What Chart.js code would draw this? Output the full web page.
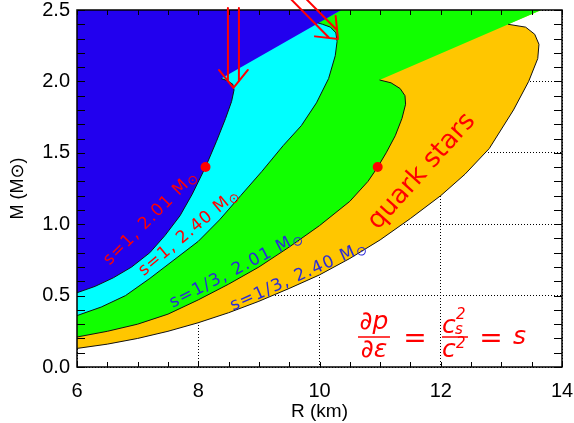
<!DOCTYPE html>
<html><head><meta charset="utf-8">
<script src="https://cdn.jsdelivr.net/npm/chart.js@4"></script>
<style>html,body{margin:0;padding:0;background:#fff;overflow:hidden}</style>
</head><body>
<canvas id="c" width="574" height="423"></canvas>
<script>
// ---- data (R in km, M in solar masses) ----
const curveA_R = [6.00, 6.30, 6.60, 6.90, 7.20, 7.45, 7.70, 7.90, 8.12, 8.30, 8.45, 8.55, 8.59, 8.57, 8.48, 8.38];
const curveA_M = [0.52, 0.565, 0.625, 0.70, 0.80, 0.92, 1.06, 1.21, 1.40, 1.58, 1.74, 1.86, 1.94, 1.98, 2.005, 2.02];
const curveB_R = [6.00, 6.40, 6.80, 7.20, 7.60, 8.00, 8.35, 8.70, 9.05, 9.40, 9.70, 9.95, 10.15, 10.26, 10.29, 10.27, 10.18, 10.05, 9.97];
const curveB_M = [0.36, 0.42, 0.50, 0.62, 0.75, 0.88, 1.03, 1.20, 1.37, 1.55, 1.69, 1.85, 2.02, 2.18, 2.28, 2.34, 2.38, 2.40, 2.41];
const curveC_R = [6.00, 6.50, 7.00, 7.50, 8.00, 8.50, 9.00, 9.50, 10.00, 10.50, 10.80, 10.96, 11.10, 11.25, 11.36, 11.42, 11.41, 11.33, 11.18, 10.99];
const curveC_M = [0.21, 0.25, 0.30, 0.37, 0.47, 0.58, 0.70, 0.84, 0.99, 1.16, 1.30, 1.40, 1.50, 1.62, 1.74, 1.84, 1.90, 1.95, 1.99, 2.01];
const curveD_R = [6.00, 6.50, 7.00, 7.50, 8.00, 8.50, 9.00, 9.50, 10.00, 10.50, 11.00, 11.50, 12.00, 12.40, 12.80, 13.20, 13.45, 13.60, 13.62, 13.55, 13.40, 13.11];
const curveD_M = [0.13, 0.16, 0.20, 0.25, 0.31, 0.38, 0.46, 0.55, 0.645, 0.76, 0.89, 1.04, 1.20, 1.35, 1.53, 1.80, 2.00, 2.16, 2.26, 2.33, 2.38, 2.40];
// where the two straight compactness limits reach the top of the plot
const limitTop_R = [10.36, 13.66];
const dot_R = [8.12, 10.96];
const dot_M = [1.40, 1.40];
const xTicks = [6, 8, 10, 12, 14];
const yTicks = [0.0, 0.5, 1.0, 1.5, 2.0, 2.5];
const curveLabels = ['s=1, 2.01 M', 's=1, 2.40 M', 's=1/3, 2.01 M', 's=1/3, 2.40 M'];
const arrowFrom = [[8.58, 2.514], [9.60, 2.60]];
const arrowTo   = [[8.58, 1.954], [10.305, 2.297]];

const xMin = xTicks[0], xMax = xTicks[xTicks.length - 1];
const yMin = yTicks[0], yMax = yTicks[yTicks.length - 1];
const pts = (R, M) => R.map((r, i) => ({x: r, y: M[i]}));
const poly = (R, M, topR) => [{x: xMin, y: yMax}, ...pts(R, M), {x: topR, y: yMax}];

const BLUE = '#2200ee', CYAN = '#00ffff', GREEN = '#11ff00', ORANGE = '#ffc600';
const RED = '#ff0000', LBLUE = '#2a2ad8';

const fillSet = (data, color, order) => ({data, showLine: true, fill: 'shape', backgroundColor: color,
  borderColor: 'rgba(0,0,0,0)', borderWidth: 0, pointRadius: 0, tension: 0, order});
const lineSet = (data) => ({data, showLine: true, fill: false, borderColor: '#111', borderWidth: 1,
  pointRadius: 0, tension: 0, order: 1});

function rotLabel(ctx, main, sub, x, y, deg, size, family, color, spacing) {
  ctx.save();
  ctx.translate(x, y); ctx.rotate(deg * Math.PI / 180);
  ctx.fillStyle = color; ctx.textBaseline = 'alphabetic'; ctx.textAlign = 'left';
  if ('letterSpacing' in ctx) ctx.letterSpacing = spacing + 'px';
  ctx.font = size + 'px ' + family;
  const w1 = ctx.measureText(main).width;
  ctx.font = Math.round(size * 0.75) + 'px ' + family;
  const w2 = sub ? ctx.measureText(sub).width : 0;
  const x0 = -(w1 + w2) / 2, base = size * 0.35;
  ctx.font = size + 'px ' + family;
  ctx.fillText(main, x0, base);
  if (sub) { ctx.font = Math.round(size * 0.75) + 'px ' + family; ctx.fillText(sub, x0 + w1, base + size * 0.15); }
  ctx.restore();
}

function drawArrow(ctx, x0, y0, x1, y1) {
  const dx = x1 - x0, dy = y1 - y0, L = Math.hypot(dx, dy);
  const ux = dx / L, uy = dy / L, px = -uy, py = ux;
  const w = 5.5, hw = 14.5, hl = 18, back = 6.8;
  ctx.beginPath();
  for (const s of [-1, 1]) {
    ctx.moveTo(x0 + px * w * s, y0 + py * w * s);
    ctx.lineTo(x1 - ux * back + px * w * s, y1 - uy * back + py * w * s);
    ctx.moveTo(x1 - ux * hl + px * hw * s, y1 - uy * hl + py * hw * s);
    ctx.lineTo(x1, y1);
  }
  ctx.stroke();
}

const overlay = {
  id: 'overlay',
  afterDraw(chart) {
    const {ctx, chartArea: a} = chart;
    const xs = chart.scales.x, ys = chart.scales.y;
    const X = v => xs.getPixelForValue(v), Y = v => ys.getPixelForValue(v);
    ctx.save();
    // inward minor ticks on all four sides
    ctx.strokeStyle = '#000'; ctx.lineWidth = 1;
    ctx.beginPath();
    for (let i = 0; i <= (xMax - xMin) * 2; i++) {
      const px = Math.round(X(xMin + i * 0.5)) + 0.5;
      ctx.moveTo(px, a.bottom); ctx.lineTo(px, a.bottom - 5);
      ctx.moveTo(px, a.top); ctx.lineTo(px, a.top + 5);
    }
    for (let i = 0; i <= (yMax - yMin) * 10; i++) {
      const py = Math.round(Y(yMin + i * 0.1)) + 0.5;
      ctx.moveTo(a.left, py); ctx.lineTo(a.left + 8, py);
      ctx.moveTo(a.right, py); ctx.lineTo(a.right - 8, py);
    }
    ctx.stroke();
    ctx.lineWidth = 1.5;
    ctx.strokeRect(a.left, a.top, a.right - a.left, a.bottom - a.top);

    // curve labels
    const fam = "'DejaVu Sans'";
    rotLabel(ctx, curveLabels[0], '\u2299', X(7.20), Y(1.05), -45, 17, fam, RED, 1.0);
    rotLabel(ctx, curveLabels[1], '\u2299', X(7.83), Y(0.95), -40, 17, fam, RED, 1.0);
    rotLabel(ctx, curveLabels[2], '\u2299', X(8.62), Y(0.69), -27.5, 17, fam, LBLUE, 1.3);
    rotLabel(ctx, curveLabels[3], '\u2299', X(9.65), Y(0.645), -24.2, 17, fam, LBLUE, 1.3);
    rotLabel(ctx, 'quark stars', '', X(11.66), Y(1.38), -48, 26, fam, RED, 0);

    // formula  dp/de = cs^2/c^2 = s
    const ax = X(11.575), ay = Y(0.203);
    ctx.fillStyle = RED; ctx.strokeStyle = RED;
    if ('letterSpacing' in ctx) ctx.letterSpacing = '0px';
    ctx.textBaseline = 'alphabetic';
    const F = "oblique 25px 'DejaVu Sans'";
    const Fs = "oblique 15px 'DejaVu Sans'";
    ctx.font = F; ctx.textAlign = 'center';
    ctx.fillText('\u2202p', ax - 41, ay - 9);
    ctx.fillText('\u2202\u03b5', ax - 41, ay + 19);
    ctx.lineWidth = 1.5;
    ctx.beginPath(); ctx.moveTo(ax - 57, ay - 1); ctx.lineTo(ax - 25, ay - 1);
    ctx.moveTo(ax + 27, ay - 1); ctx.lineTo(ax + 53, ay - 1); ctx.stroke();
    ctx.font = "28px 'DejaVu Sans'";
    ctx.fillText('=', ax, ay + 9);
    ctx.fillText('=', ax + 76, ay + 9);
    ctx.textAlign = 'left';
    ctx.font = F;
    ctx.fillText('c', ax + 27, ay - 5);
    ctx.fillText('c', ax + 27, ay + 19);
    ctx.fillText('s', ax + 98, ay + 6);
    ctx.font = Fs;
    ctx.fillText('s', ax + 40, ay - 4);
    ctx.fillText('2', ax + 41, ay - 19);
    ctx.fillText('2', ax + 41, ay + 10);

    // arrows
    ctx.strokeStyle = RED; ctx.lineWidth = 2; ctx.lineCap = 'round'; ctx.lineJoin = 'round';
    for (let i = 0; i < arrowFrom.length; i++) {
      drawArrow(ctx, X(arrowFrom[i][0]), Y(arrowFrom[i][1]), X(arrowTo[i][0]), Y(arrowTo[i][1]));
    }
    ctx.restore();
  }
};

const tickFont = {family: "'Liberation Sans', 'DejaVu Sans'", size: 20};
new Chart(document.getElementById('c'), {
  type: 'scatter',
  data: {
    datasets: [
      {data: pts(dot_R, dot_M), pointRadius: 5, pointBackgroundColor: RED, pointBorderWidth: 0, showLine: false, order: 0},
      lineSet(pts(curveA_R, curveA_M)),
      lineSet(pts(curveB_R, curveB_M)),
      lineSet(pts(curveC_R, curveC_M)),
      lineSet(pts(curveD_R, curveD_M)),
      fillSet(poly(curveA_R, curveA_M, limitTop_R[0]), BLUE, 2),
      fillSet(poly(curveB_R, curveB_M, limitTop_R[0]), CYAN, 3),
      fillSet(poly(curveC_R, curveC_M, limitTop_R[1]), GREEN, 4),
      fillSet(poly(curveD_R, curveD_M, limitTop_R[1]), ORANGE, 5)
    ]
  },
  options: {
    responsive: false, devicePixelRatio: 1, animation: false, events: [],
    layout: {padding: {top: 10, right: 12, bottom: 0, left: 0}},
    plugins: {legend: {display: false}, tooltip: {enabled: false}},
    scales: {
      x: {
        type: 'linear', min: xMin, max: xMax, z: 1,
        afterBuildTicks: s => { s.ticks = xTicks.map(v => ({value: v})); },
        afterFit: s => { s.height = 56; s.paddingLeft = 0; s.paddingRight = 0; },
        grid: {color: '#000', lineWidth: 1, drawTicks: false},
        border: {display: false, dash: [1, 2]},
        ticks: {font: tickFont, color: '#000', padding: 12, autoSkip: false, maxRotation: 0, callback: v => String(v)},
        title: {display: true, text: 'R (km)', color: '#000', font: {family: "'Liberation Sans', 'DejaVu Sans'", size: 19}, padding: {top: 0, bottom: 0}}
      },
      y: {
        type: 'linear', min: yMin, max: yMax, z: 1,
        afterBuildTicks: s => { s.ticks = yTicks.map(v => ({value: v})); },
        afterFit: s => { s.width = 77; s.paddingTop = 0; s.paddingBottom = 0; },
        grid: {color: '#000', lineWidth: 1, drawTicks: false},
        border: {display: false, dash: [1, 2]},
        ticks: {font: tickFont, color: '#000', padding: 7, autoSkip: false, callback: v => Number(v).toFixed(1)},
        title: {display: true, text: 'M (M\u2299)', color: '#000', font: {family: "'Liberation Sans', 'DejaVu Sans'", size: 18}, padding: {top: 7, bottom: 0}}
      }
    }
  },
  plugins: [overlay]
});
</script>
</body></html>
